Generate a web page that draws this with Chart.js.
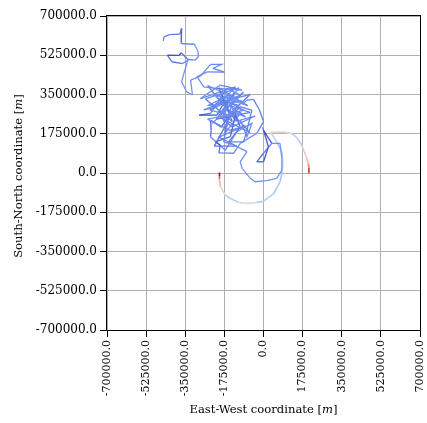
<!DOCTYPE html>
<html>
<head>
<meta charset="utf-8">
<script src="https://cdn.jsdelivr.net/npm/chart.js@4/dist/chart.umd.min.js"></script>
<style>
  html, body { margin: 0; padding: 0; background: #ffffff; }
  #plot { display: block; }
</style>
</head>
<body>
<canvas id="plot" width="427" height="423"></canvas>
<script>
// Horizontal positions (m) of the wandering track, in drawing order
const trackEast = [
  -448000, -445000, -421000, -374000, -366000, -368000, -309000, -294000, -291000, -307000,
  -338000, -368000, -378000, -430000, -410000, -362000, -338000, -356000, -366000, -344000,
  -318000, -326000, -282000, -237000, -188000, -226000, -175000, -252000, -297000, -267000,
  -215000, -96000, -193000, -282000, -126000, -208000, -267000, -104000, -163000, -237000,
  -288000, -208000, -171000, -89000, -193000, -141000, -37000, -104000, -74000, -52000,
  -119000, -171000, -237000, -234000, -237000, -190000, -134000, -60000, -215000, -96000,
  -250000, -150000, -180000, -110000, -200000, -80000, -160000, -120000,
  -250000, -120000, -230000, -70000, -200000, -140000, -260000, -110000, -190000, -90000,
  -230000, -150000, -60000, -210000, -130000, -170000, -100000, -250000, -150000, -80000,
  -200000, -120000, -220000, -160000, -60000, -180000, -240000, -120000, -170000, -90000,
  -74000, -45000,
  -18000, 0, -30000, -104000, -134000, -200000, -193000, -215000, -148000, -126000,
  -104000, -156000, -89000, -74000, -52000, -104000, -163000, -178000, -134000, -74000,
  -104000, -96000, -59000, -37000, 15000, 59000, 82000, 82000, 74000, 37000,
  0, -30000, 0, 22000, 0, 37000
];
// Vertical positions (m) of the wandering track
const trackNorth = [
  589000, 607000, 617000, 619000, 644000, 577000, 574000, 545000, 518000, 503000,
  506000, 536000, 524000, 525000, 496000, 488000, 503000, 444000, 407000, 362000,
  349000, 414000, 432000, 484000, 484000, 466000, 450000, 451000, 429000, 384000,
  377000, 370000, 392000, 332000, 384000, 295000, 281000, 347000, 377000, 266000,
  258000, 258000, 325000, 280000, 251000, 206000, 254000, 236000, 162000, 221000,
  184000, 102000, 162000, 191000, 236000, 204000, 280000, 350000, 310000, 320000,
  300000, 350000, 230000, 300000, 330000, 250000, 280000, 230000,
  390000, 330000, 350000, 300000, 380000, 230000, 330000, 380000, 270000, 360000,
  220000, 300000, 270000, 240000, 360000, 180000, 270000, 240000, 190000, 210000,
  160000, 120000, 120000, 230000, 180000, 310000, 280000, 250000, 350000, 310000,
  325000, 328000,
  281000, 229000, 177000, 132000, 88000, 90000, 125000, 139000, 162000, 258000,
  206000, 139000, 139000, 191000, 280000, 295000, 236000, 139000, 125000, 95000,
  50000, 21000, -24000, -39000, -34000, -24000, 13000, 65000, 132000, 132000,
  88000, 50000, 50000, 117000, 191000, 132000
];
// Colour level (0..1 on the coolwarm scale) at each track point
const trackLevel = [
  0.16, 0.16, 0.15, 0.13, 0.08, 0.08, 0.22, 0.22, 0.20, 0.20,
  0.18, 0.05, 0.02, 0.02, 0.12, 0.14, 0.20, 0.22, 0.22, 0.22,
  0.22, 0.20, 0.20, 0.18, 0.18, 0.18, 0.15, 0.20, 0.20, 0.20,
  0.20, 0.15, 0.20, 0.20, 0.18, 0.15, 0.20, 0.18, 0.20, 0.15,
  0.03, 0.03, 0.18, 0.18, 0.12, 0.15, 0.20, 0.20, 0.18, 0.20,
  0.18, 0.20, 0.18, 0.05, 0.10, 0.15, 0.05, 0.20, 0.18, 0.20,
  0.20, 0.15, 0.18, 0.20, 0.12, 0.20, 0.18, 0.15,
  0.20, 0.18, 0.22, 0.20, 0.15, 0.08, 0.20, 0.18, 0.22, 0.20,
  0.15, 0.20, 0.18, 0.10, 0.20, 0.18, 0.20, 0.22, 0.15, 0.20,
  0.18, 0.20, 0.08, 0.18, 0.20, 0.15, 0.20, 0.18, 0.22, 0.20,
  0.18, 0.18,
  0.15, 0.15, 0.18, 0.20, 0.20, 0.20, 0.03, 0.05, 0.15, 0.03,
  0.15, 0.15, 0.18, 0.15, 0.15, 0.18, 0.15, 0.18, 0.18, 0.20,
  0.22, 0.22, 0.22, 0.22, 0.22, 0.22, 0.24, 0.24, 0.22, 0.20,
  0.10, 0.10, 0.03, 0.05, 0.03, 0.05
];

// The closing loop around the origin
const loopEast = [
  -197000, -197000, -197000, -193000, -171000, -141000, -111000, -89000, -52000, -30000,
  0, 22000, 45000, 59000, 74000, 82000, 86000, 82000, 59000, 33000,
  59000, 96000, 126000, 148000, 168000, 183000, 193000, 200000, 203000, 203000
];
const loopNorth = [
  2000, -16000, -27000, -61000, -98000, -117000, -131000, -135000, -135000, -131000,
  -126000, -110000, -93000, -68000, -39000, -1000, 43000, 95000, 139000, 181000,
  183000, 181000, 177000, 159000, 129000, 95000, 65000, 40000, 25000, -1000
];
const loopLevel = [
  1.00, 1.00, 0.75, 0.60, 0.45, 0.40, 0.40, 0.56, 0.57, 0.40,
  0.40, 0.40, 0.38, 0.38, 0.37, 0.36, 0.36, 0.36, 0.38, 0.50,
  0.57, 0.58, 0.42, 0.40, 0.40, 0.50, 0.60, 0.70, 0.85, 1.00
];

// Shared tick positions for both axes
const axisTicks = [-700000, -525000, -350000, -175000, 0, 175000, 350000, 525000, 700000];

// coolwarm colour map stops
const coolwarmStops = [
  [0.000, [59, 76, 192]],
  [0.125, [88, 118, 228]],
  [0.250, [124, 159, 249]],
  [0.375, [170, 199, 253]],
  [0.500, [221, 221, 221]],
  [0.625, [245, 196, 173]],
  [0.750, [244, 154, 123]],
  [0.875, [222, 96, 77]],
  [1.000, [180, 4, 38]]
];
function coolwarm(t) {
  t = Math.max(0, Math.min(1, t));
  for (let i = 1; i < coolwarmStops.length; i++) {
    const [t1, c1] = coolwarmStops[i];
    const [t0, c0] = coolwarmStops[i - 1];
    if (t <= t1) {
      const f = (t - t0) / (t1 - t0);
      const c = c0.map((v, k) => Math.round(v + (c1[k] - v) * f));
      return `rgb(${c[0]},${c[1]},${c[2]})`;
    }
  }
  return 'rgb(180,4,38)';
}

function toPoints(xs, ys) {
  return xs.map((x, i) => ({ x: x, y: ys[i] }));
}
function shadedSegments(levels) {
  return {
    borderColor: ctx => coolwarm((levels[ctx.p0DataIndex] + levels[ctx.p1DataIndex]) / 2)
  };
}

const serif = "'DejaVu Serif', 'Liberation Serif', serif";

// Axis titles (with an italic unit symbol) and the closed axes frame
const frameAndTitles = {
  id: 'frameAndTitles',
  afterDraw(chart) {
    const { ctx, chartArea: a } = chart;
    ctx.save();
    ctx.strokeStyle = '#000000';
    ctx.lineWidth = 1;
    ctx.strokeRect(Math.round(a.left) - 0.5, Math.round(a.top) - 0.5,
                   Math.round(a.right - a.left) + 1, Math.round(a.bottom - a.top) + 1);

    const parts = (label) => [
      [label + ' [', 'normal'],
      ['m', 'italic'],
      [']', 'normal']
    ];
    const drawTitle = (label, cx, cy, angle) => {
      const size = 11.6;
      const pieces = parts(label);
      let total = 0;
      const widths = pieces.map(([s, st]) => {
        ctx.font = `${st} ${size}px ${serif}`;
        const w = ctx.measureText(s).width;
        total += w;
        return w;
      });
      ctx.save();
      ctx.translate(cx, cy);
      ctx.rotate(angle);
      ctx.fillStyle = '#000000';
      ctx.textBaseline = 'alphabetic';
      ctx.textAlign = 'left';
      let x = -total / 2;
      pieces.forEach(([s, st], i) => {
        ctx.font = `${st} ${size}px ${serif}`;
        ctx.fillText(s, x, 0);
        x += widths[i];
      });
      ctx.restore();
    };
    drawTitle('East-West coordinate', (a.left + a.right) / 2, 413, 0);
    drawTitle('South-North coordinate', 22, (a.top + a.bottom) / 2 + 3, -Math.PI / 2);
    ctx.restore();
  }
};

const gridStyle = {
  color: '#b0b0b0',
  lineWidth: 1,
  tickColor: '#000000',
  tickWidth: 1,
  tickLength: 7,
  drawOnChartArea: true
};

new Chart(document.getElementById('plot'), {
  type: 'scatter',
  data: {
    datasets: [
      {
        label: 'track',
        data: toPoints(trackEast, trackNorth),
        showLine: true,
        borderWidth: 1.3,
        pointRadius: 0,
        borderColor: coolwarm(0.2),
        segment: shadedSegments(trackLevel)
      },
      {
        label: 'loop',
        data: toPoints(loopEast, loopNorth),
        showLine: true,
        borderWidth: 1.6,
        pointRadius: 0,
        borderColor: coolwarm(0.4),
        segment: shadedSegments(loopLevel)
      }
    ]
  },
  options: {
    responsive: false,
    animation: false,
    devicePixelRatio: 1,
    layout: { padding: { top: 16, right: 7, left: 0, bottom: 0 } },
    plugins: {
      legend: { display: false },
      tooltip: { enabled: false }
    },
    scales: {
      x: {
        type: 'linear',
        min: -700000,
        max: 700000,
        afterBuildTicks: s => { s.ticks = axisTicks.map(v => ({ value: v })); },
        afterFit: s => { s.height = 93; s.paddingLeft = 0; s.paddingRight = 0; },
        grid: gridStyle,
        border: { display: false },
        ticks: {
          minRotation: 90,
          maxRotation: 90,
          padding: 3,
          color: '#000000',
          font: { family: serif, size: 11 },
          callback: v => Number(v).toFixed(1)
        }
      },
      y: {
        type: 'linear',
        min: -700000,
        max: 700000,
        afterBuildTicks: s => { s.ticks = axisTicks.map(v => ({ value: v })); },
        afterFit: s => { s.width = 107; s.paddingTop = 0; s.paddingBottom = 0; },
        grid: gridStyle,
        border: { display: false },
        ticks: {
          padding: 3,
          color: '#000000',
          font: { family: serif, size: 12 },
          callback: v => Number(v).toFixed(1)
        }
      }
    }
  },
  plugins: [frameAndTitles]
});
</script>
</body>
</html>
